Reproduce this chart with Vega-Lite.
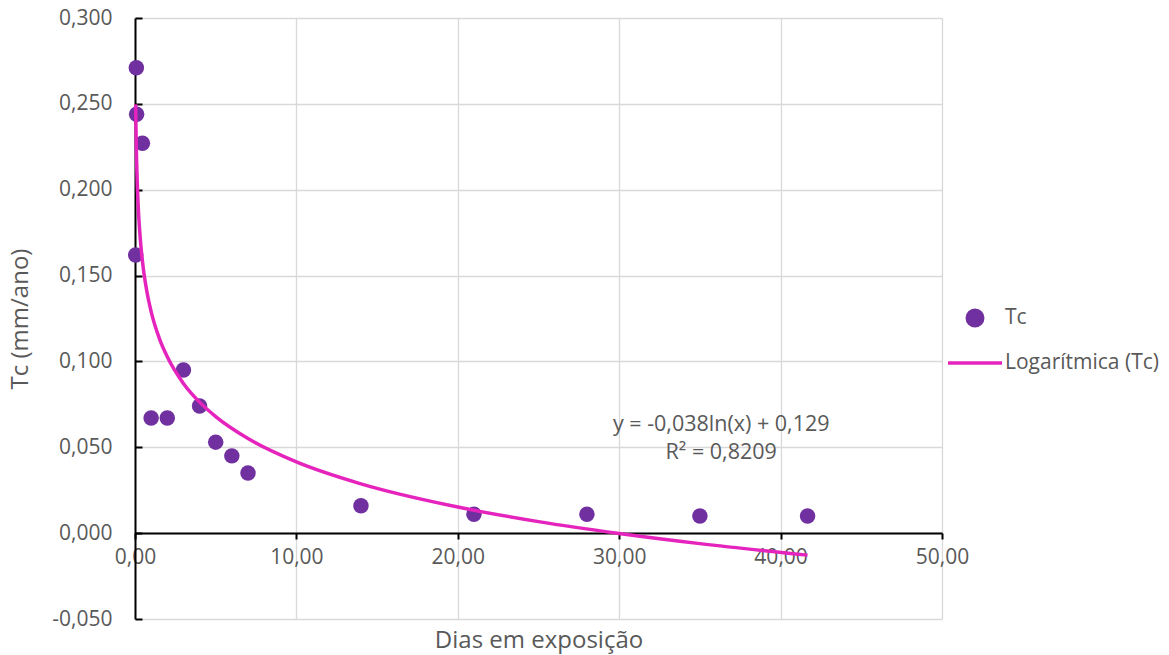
{
  "$schema": "https://vega.github.io/schema/vega-lite/v6.json",
  "width": 807,
  "height": 601,
  "autosize": "none",
  "padding": {"left": 135, "top": 18, "right": 227, "bottom": 36},
  "background": "white",
  "config": {
    "locale": {
      "number": {"decimal": ",", "thousands": ".", "grouping": [3], "currency": ["", " €"], "minus": "-"}
    },
    "font": "Open Sans",
    "view": {"stroke": null},
    "axis": {
      "labelColor": "#595959",
      "titleColor": "#595959",
      "labelFont": "Open Sans",
      "titleFont": "Open Sans",
      "labelFontSize": 21,
      "titleFontSize": 24,
      "titleFontWeight": "normal",
      "labelFlush": false,
      "gridColor": "#d9d9d9",
      "gridWidth": 1.3,
      "domainColor": "#000000",
      "domainWidth": 2,
      "tickColor": "#000000",
      "tickWidth": 2
    },
    "legend": {
      "orient": "none",
      "legendX": 811,
      "legendY": 271,
      "title": null,
      "labelFont": "Open Sans",
      "labelFontSize": 21,
      "labelColor": "#595959",
      "labelOffset": 1,
      "rowPadding": 1
    }
  },
  "datasets": {
    "pontos": [
      {"dias": 0.0417, "tc": 0.162, "serie": "Tc"},
      {"dias": 0.0833, "tc": 0.271, "serie": "Tc"},
      {"dias": 0.1, "tc": 0.244, "serie": "Tc"},
      {"dias": 0.46, "tc": 0.227, "serie": "Tc"},
      {"dias": 1, "tc": 0.067, "serie": "Tc"},
      {"dias": 2, "tc": 0.067, "serie": "Tc"},
      {"dias": 3, "tc": 0.095, "serie": "Tc"},
      {"dias": 4, "tc": 0.074, "serie": "Tc"},
      {"dias": 5, "tc": 0.053, "serie": "Tc"},
      {"dias": 6, "tc": 0.045, "serie": "Tc"},
      {"dias": 7, "tc": 0.035, "serie": "Tc"},
      {"dias": 14, "tc": 0.016, "serie": "Tc"},
      {"dias": 21, "tc": 0.011, "serie": "Tc"},
      {"dias": 28, "tc": 0.011, "serie": "Tc"},
      {"dias": 35, "tc": 0.010, "serie": "Tc"},
      {"dias": 41.67, "tc": 0.010, "serie": "Tc"}
    ],
    "tendencia": [
      {"dias": 0.0417, "tc": 0.2497, "serie": "Logarítmica (Tc)"},
      {"dias": 0.06, "tc": 0.2359, "serie": "Logarítmica (Tc)"},
      {"dias": 0.08, "tc": 0.2250, "serie": "Logarítmica (Tc)"},
      {"dias": 0.1, "tc": 0.2165, "serie": "Logarítmica (Tc)"},
      {"dias": 0.15, "tc": 0.2011, "serie": "Logarítmica (Tc)"},
      {"dias": 0.2, "tc": 0.1901, "serie": "Logarítmica (Tc)"},
      {"dias": 0.3, "tc": 0.1748, "serie": "Logarítmica (Tc)"},
      {"dias": 0.4, "tc": 0.1638, "serie": "Logarítmica (Tc)"},
      {"dias": 0.5, "tc": 0.1553, "serie": "Logarítmica (Tc)"},
      {"dias": 0.7, "tc": 0.1426, "serie": "Logarítmica (Tc)"},
      {"dias": 1, "tc": 0.1290, "serie": "Logarítmica (Tc)"},
      {"dias": 1.5, "tc": 0.1136, "serie": "Logarítmica (Tc)"},
      {"dias": 2, "tc": 0.1027, "serie": "Logarítmica (Tc)"},
      {"dias": 3, "tc": 0.0872, "serie": "Logarítmica (Tc)"},
      {"dias": 4, "tc": 0.0763, "serie": "Logarítmica (Tc)"},
      {"dias": 5, "tc": 0.0679, "serie": "Logarítmica (Tc)"},
      {"dias": 7, "tc": 0.0551, "serie": "Logarítmica (Tc)"},
      {"dias": 10, "tc": 0.0415, "serie": "Logarítmica (Tc)"},
      {"dias": 14, "tc": 0.0287, "serie": "Logarítmica (Tc)"},
      {"dias": 20, "tc": 0.0152, "serie": "Logarítmica (Tc)"},
      {"dias": 25, "tc": 0.0067, "serie": "Logarítmica (Tc)"},
      {"dias": 30, "tc": -0.0002, "serie": "Logarítmica (Tc)"},
      {"dias": 35, "tc": -0.0061, "serie": "Logarítmica (Tc)"},
      {"dias": 41.67, "tc": -0.0128, "serie": "Logarítmica (Tc)"}
    ],
    "equacao": [
      {"linhas": ["y = -0,038ln(x) + 0,129", "R² = 0,8209"]}
    ]
  },
  "layer": [
    {
      "data": {"name": "pontos"},
      "mark": {"type": "point", "filled": true, "size": 240, "opacity": 1},
      "encoding": {
        "x": {
          "field": "dias",
          "type": "quantitative",
          "scale": {"domain": [0, 50], "nice": false, "zero": false},
          "axis": {
            "values": [0, 10, 20, 30, 40, 50],
            "format": ".2f",
            "title": "Dias em exposição",
            "offset": -86,
            "tickSize": 6,
            "labelPadding": 7,
            "titlePadding": 61,
            "grid": true
          }
        },
        "y": {
          "field": "tc",
          "type": "quantitative",
          "scale": {"domain": [-0.05, 0.3], "nice": false, "zero": false},
          "axis": {
            "values": [-0.05, 0, 0.05, 0.1, 0.15, 0.2, 0.25, 0.3],
            "format": ".3f",
            "title": "Tc (mm/ano)",
            "tickSize": -7,
            "labelPadding": 30,
            "titlePadding": 19,
            "grid": true
          }
        },
        "color": {
          "field": "serie",
          "type": "nominal",
          "scale": {"domain": ["Tc", "Logarítmica (Tc)"], "range": ["#7030a0", "#e524bd"]},
          "legend": {
            "encode": {
              "symbols": {
                "update": {
                  "shape": {"signal": "datum.value === 'Tc' ? 'circle' : 'stroke'"},
                  "size": {"signal": "datum.value === 'Tc' ? 240 : 2916"},
                  "strokeWidth": {"value": 3.5},
                  "fill": {"signal": "datum.value === 'Tc' ? '#7030a0' : 'transparent'"},
                  "stroke": {"signal": "datum.value === 'Tc' ? 'transparent' : '#e524bd'"},
                  "opacity": {"value": 1},
                  "fillOpacity": {"value": 1},
                  "strokeOpacity": {"value": 1}
                }
              }
            }
          }
        }
      }
    },
    {
      "data": {"name": "tendencia"},
      "mark": {"type": "line", "strokeWidth": 3.5, "interpolate": "monotone"},
      "encoding": {
        "x": {"field": "dias", "type": "quantitative"},
        "y": {"field": "tc", "type": "quantitative"},
        "color": {
          "field": "serie",
          "type": "nominal",
          "legend": {
            "encode": {
              "symbols": {
                "update": {
                  "shape": {"signal": "datum.value === 'Tc' ? 'circle' : 'stroke'"},
                  "size": {"signal": "datum.value === 'Tc' ? 240 : 2916"},
                  "strokeWidth": {"value": 3.5},
                  "fill": {"signal": "datum.value === 'Tc' ? '#7030a0' : 'transparent'"},
                  "stroke": {"signal": "datum.value === 'Tc' ? 'transparent' : '#e524bd'"},
                  "opacity": {"value": 1},
                  "fillOpacity": {"value": 1},
                  "strokeOpacity": {"value": 1}
                }
              }
            }
          }
        }
      }
    },
    {
      "data": {"name": "equacao"},
      "mark": {
        "type": "text",
        "font": "Open Sans",
        "fontSize": 21.5,
        "lineHeight": 28,
        "align": "center",
        "baseline": "middle",
        "color": "#595959"
      },
      "encoding": {
        "x": {"datum": 36.32},
        "y": {"datum": 0.0632},
        "text": {"field": "linhas"}
      }
    }
  ]
}
